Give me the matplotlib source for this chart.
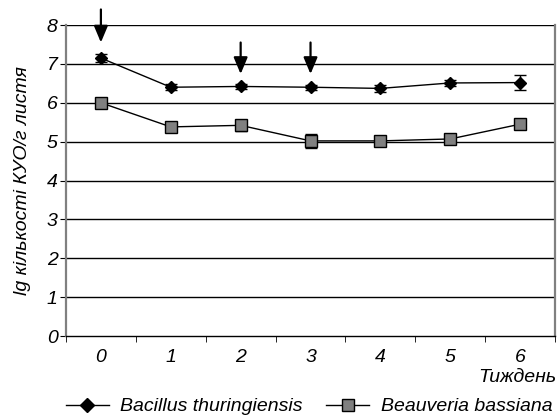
import matplotlib
matplotlib.use("Agg")
import matplotlib.pyplot as plt
from matplotlib.lines import Line2D

weeks = ["0", "1", "2", "3", "4", "5", "6"]
bt_values = [7.15, 6.40, 6.42, 6.40, 6.37, 6.51, 6.52]
bt_errors = [0.10, 0.08, 0.06, 0.07, 0.08, 0.08, 0.19]
bb_values = [6.00, 5.38, 5.42, 5.02, 5.02, 5.07, 5.45]
bb_errors = [0.04, 0.08, 0.15, 0.17, 0.06, 0.03, 0.03]
arrow_weeks = [0, 2, 3]
arrow_tails = [8.4, 7.55, 7.55]
arrow_tips = [7.55, 6.74, 6.74]
yticks = [0, 1, 2, 3, 4, 5, 6, 7, 8]

FS = 14
plt.rcParams['font.family'] = ['Liberation Sans', 'DejaVu Sans']
fig = plt.figure(figsize=(5.59, 4.17), dpi=100)
ax = fig.add_axes([0.118, 0.194, 0.875, 0.746])

x = list(range(len(weeks)))
for y in yticks[1:]:
    ax.axhline(y, color='black', lw=1.0, zorder=1)

ax.errorbar(x, bt_values, yerr=bt_errors, color='black', lw=1.0, marker='D',
            ms=6, mfc='black', mec='black', capsize=4.5, elinewidth=1.0,
            capthick=1.0, zorder=3)
ax.errorbar(x, bb_values, yerr=bb_errors, color='black', lw=1.0, marker='s',
            ms=9, mfc='#808080', mec='black', mew=1.0, capsize=4.5, elinewidth=1.0,
            capthick=1.0, zorder=3)

for wk, t0, t1 in zip(arrow_weeks, arrow_tails, arrow_tips):
    ax.annotate('', xy=(wk, t1), xytext=(wk, t0), annotation_clip=False,
                arrowprops=dict(arrowstyle='-|>,head_width=0.42,head_length=1.0',
                                color='black', lw=1.6, shrinkA=0, shrinkB=0))

ax.set_xlim(-0.5, 6.5)
ax.set_ylim(0, 8)
ax.set_yticks(yticks)
ax.set_yticklabels([str(v) for v in yticks], fontsize=FS, style='italic')
ax.set_xticks(x)
ax.set_xticklabels(weeks, fontsize=FS, style='italic')
ax.tick_params(axis='x', which='major', length=0, pad=9)
ax.set_xticks([i - 0.5 for i in range(len(weeks) + 1)], minor=True)
ax.tick_params(axis='x', which='minor', length=4, direction='out', color='black')
ax.tick_params(axis='y', length=4, direction='out', pad=2)

ax.spines['left'].set_color('#808080')
ax.spines['left'].set_linewidth(1.6)
ax.spines['right'].set_color('#808080')
ax.spines['right'].set_linewidth(1.6)
ax.spines['top'].set_visible(False)
ax.spines['bottom'].set_color('black')
ax.spines['bottom'].set_linewidth(1.0)

ax.set_ylabel('lg кількості КУО/г листя', fontsize=FS, style='italic', labelpad=11)
fig.text(0.995, 0.095, 'Тиждень', ha='right', va='center', fontsize=FS, style='italic')

handles = [
    Line2D([0], [0], color='black', lw=1.0, marker='D', ms=7, mfc='black', mec='black'),
    Line2D([0], [0], color='black', lw=1.0, marker='s', ms=8, mfc='#808080', mec='black'),
]
fig.legend(handles, ['Bacillus thuringiensis', 'Beauveria bassiana'],
           loc='center', bbox_to_anchor=(0.553, 0.025), ncol=2, frameon=False,
           prop=dict(size=FS, style='italic'), handlelength=2.2, columnspacing=1.2,
           handletextpad=0.6)

fig.savefig('out.png', dpi=100)
